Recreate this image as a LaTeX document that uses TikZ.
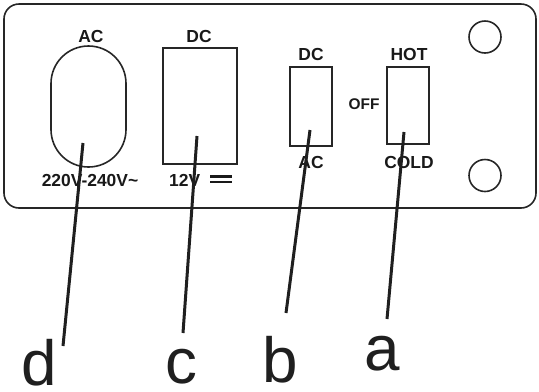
\documentclass[tikz,border=0pt]{standalone}
\usepackage{fontspec}
\setmainfont{Liberation Sans}
\begin{document}
\begin{tikzpicture}[x=1bp,y=-1bp,
  outline/.style={draw=black!85, line width=1.6bp},
  panellbl/.style={font=\bfseries\fontsize{17.5}{18}\selectfont, text=black!90, inner sep=0pt, anchor=base},
  offlbl/.style={font=\bfseries\fontsize{15.5}{16}\selectfont, text=black!90, inner sep=0pt, anchor=base},
  bigletter/.style={font=\fontsize{64}{66}\selectfont, text=black!88, inner sep=0pt, text depth=0pt, anchor=base},
  leader/.style={draw=black!88, line width=3bp}]
\useasboundingbox (0,0) rectangle (539,391);
% panel
\draw[outline, rounded corners=15bp] (4,4) rectangle (536,208);
% AC socket (oval)
\node[outline, minimum width=75bp, minimum height=121bp, rounded corners=37.5bp, inner sep=0pt] (oval) at (88.5,106.5) {};
\node[panellbl] (acTop) at (91,42) {AC};
\node[panellbl] (acV) at (90,186) {220V-240V\char`~};
% DC socket
\node[outline, minimum width=74bp, minimum height=116bp, inner sep=0pt] (dcbox) at (200,106) {};
\node[panellbl] (dcTop) at (199,42) {DC};
\node[panellbl, anchor=base west] (dcV) at (169,186) {12V};
\draw[draw=black!90, line width=2.6bp] (210,176.5) -- (232,176.5);
\draw[draw=black!90, line width=2.6bp] (210,182) -- (232,182);
% DC/AC switch
\node[outline, minimum width=42bp, minimum height=79bp, inner sep=0pt] (swb) at (311,106.5) {};
\node[panellbl] (swbTop) at (311,60) {DC};
\node[panellbl] (swbBot) at (311,168) {AC};
% HOT/COLD switch
\node[outline, minimum width=42bp, minimum height=77bp, inner sep=0pt] (swa) at (408,105.5) {};
\node[panellbl] (swaTop) at (409,60) {HOT};
\node[panellbl] (swaBot) at (409,168) {COLD};
\node[offlbl] (off) at (364,109) {OFF};
% mounting holes
\node[outline, circle, minimum size=32bp, inner sep=0pt] (hole1) at (485,37) {};
\node[outline, circle, minimum size=32bp, inner sep=0pt] (hole2) at (485,175.5) {};
% leader lines
\coordinate (dtop) at (83,143);
\coordinate (dbot) at (63,346);
\coordinate (ctop) at (197,136);
\coordinate (cbot) at (183,333);
\coordinate (btop) at (310,130);
\coordinate (bbot) at (286,313);
\coordinate (atop) at (404,132);
\coordinate (abot) at (387,319);
\draw[leader] (dtop) -- (dbot);
\draw[leader] (ctop) -- (cbot);
\draw[leader] (btop) -- (bbot);
\draw[leader] (atop) -- (abot);
% labels
\node[bigletter] (ld) at (39,385) {d};
\node[bigletter] (lc) at (181,383.5) {c};
\node[bigletter] (lb) at (280,382.5) {b};
\node[bigletter] (la) at (382,370) {a};
\end{tikzpicture}
\end{document}
